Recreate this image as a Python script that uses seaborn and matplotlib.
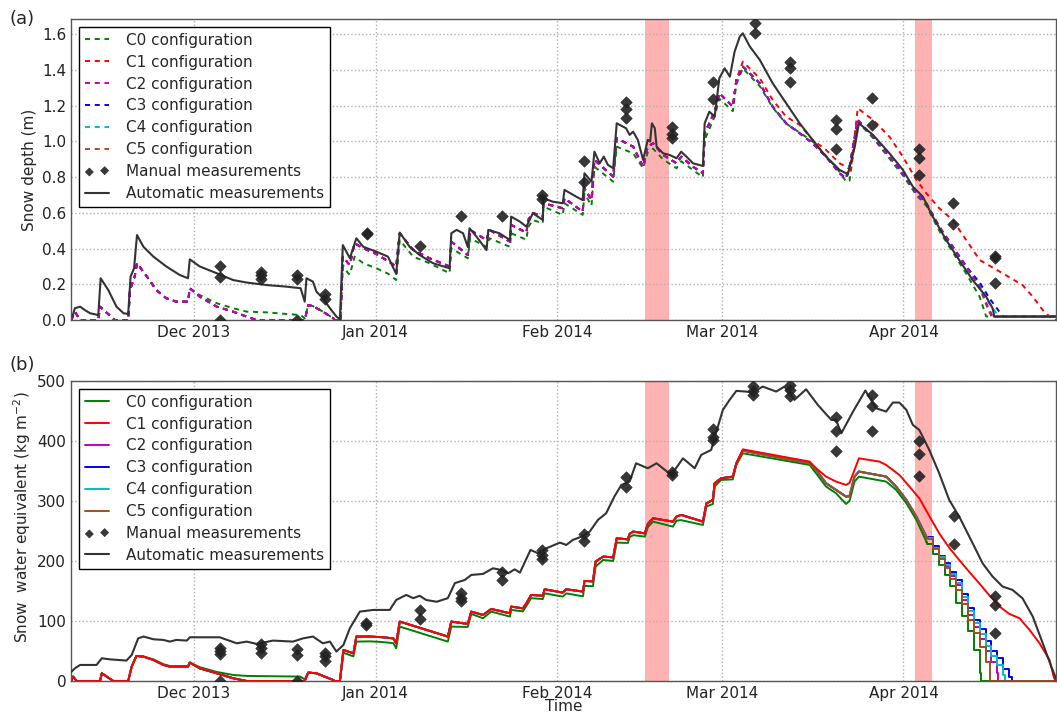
import pandas as pd
import numpy as np
import seaborn as sns
import matplotlib.pyplot as plt
import matplotlib.dates as mdates

# days counted from 2013-11-01
start = pd.Timestamp('2013-11-01')

# ---------------- panel (a): snow depth (m) ----------------
auto_sd_days = [9.3, 9.7, 10.6, 11.4, 12.3, 13.7, 14.1, 15.4, 16.8, 18.0,
                18.8, 19.2, 19.8, 20.3, 21.4, 23.1, 25.3, 27.6, 29.0, 29.3,
                31.0, 33.9, 36.7, 39.0, 42.4, 45.8, 48.2, 48.9, 49.2, 50.3,
                50.9, 52.0, 53.2, 54.3, 54.9, 55.4, 56.3, 56.6, 57.7, 58.9,
                61.1, 63.1, 64.5, 65.1, 66.8, 68.5, 70.8, 73.6, 73.9, 74.8,
                75.9, 76.7, 77.0, 78.2, 79.9, 80.2, 82.1, 83.9, 84.1, 85.6,
                86.7, 87.8, 89.5, 89.6, 91.2, 92.9, 93.2, 95.2, 96.3, 96.6,
                97.8, 98.3, 99.2, 99.9, 100.6, 101.5, 102.1, 103.7, 104.3, 104.9,
                105.7, 106.6, 107.4, 107.8, 108.1, 108.6, 108.9, 110.0, 111.1, 112.3,
                113.1, 114.0, 115.1, 116.8, 117.1, 117.9, 118.8, 119.6, 120.5, 121.4,
                122.2, 123.1, 123.6, 124.8, 126.5, 128.7, 131.0, 133.3, 135.5, 137.8,
                140.1, 141.2, 141.5, 142.7, 143.4, 145.8, 148.6, 150.9, 152.6, 154.3,
                156.0, 158.3, 160.5, 162.8, 165.1, 166.2, 166.5, 168.5, 177.0]
auto_sd_vals = [0.02, 0.066, 0.075, 0.056, 0.038, 0.028, 0.234, 0.168, 0.075, 0.038,
                0.034, 0.243, 0.29, 0.476, 0.41, 0.355, 0.30, 0.252, 0.234, 0.34,
                0.30, 0.262, 0.224, 0.21, 0.196, 0.187, 0.178, 0.103, 0.234, 0.215,
                0.159, 0.122, 0.066, 0.02, 0.004, 0.42, 0.364, 0.346, 0.458, 0.41,
                0.383, 0.355, 0.258, 0.49, 0.41, 0.364, 0.318, 0.29, 0.486, 0.505,
                0.486, 0.41, 0.514, 0.467, 0.392, 0.505, 0.486, 0.448, 0.579, 0.551,
                0.523, 0.598, 0.56, 0.682, 0.663, 0.654, 0.729, 0.691, 0.672, 0.822,
                0.775, 0.943, 0.878, 0.915, 0.869, 0.85, 1.102, 1.074, 1.037, 1.055,
                1.009, 0.897, 1.009, 1.0, 1.102, 1.074, 0.971, 0.934, 0.925, 0.906,
                0.943, 0.915, 0.878, 0.863, 1.102, 1.167, 1.139, 1.354, 1.41, 1.363,
                1.503, 1.588, 1.606, 1.532, 1.457, 1.326, 1.214, 1.102, 1.009, 0.915,
                0.841, 0.822, 0.813, 0.971, 1.102, 1.037, 0.934, 0.841, 0.747, 0.691,
                0.579, 0.448, 0.336, 0.224, 0.131, 0.066, 0.019, 0.019, 0.019]

man_sd_days = [34.4, 34.4, 34.4, 41.5, 41.5, 41.5, 47.5, 47.5, 47.5, 52.4, 52.4,
               59.5, 59.5, 68.5, 75.5, 82.5, 89.4, 89.4, 96.5, 96.5,
               103.6, 103.6, 103.6, 111.6, 111.6, 111.6, 118.5, 118.5, 125.6, 125.6,
               131.6, 131.6, 131.6, 139.5, 139.5, 139.5, 145.6, 145.6,
               153.6, 153.6, 153.6, 159.5, 159.5, 166.6, 166.6, 166.6]
man_sd_vals = [0.30, 0.24, 0.0, 0.27, 0.25, 0.23, 0.25, 0.23, 0.0, 0.145, 0.12,
               0.49, 0.48, 0.415, 0.585, 0.585, 0.70, 0.68, 0.89, 0.775,
               1.22, 1.18, 1.13, 1.08, 1.04, 1.02, 1.335, 1.24, 1.665, 1.605,
               1.445, 1.41, 1.335, 1.12, 1.07, 0.96, 1.245, 1.09,
               0.96, 0.91, 0.81, 0.655, 0.54, 0.36, 0.35, 0.205]

# C0 (whole season)
c0_sd_days = [9.1, 9.7, 10.6, 13.7, 14.0, 16.5, 18.8, 19.1, 19.9, 20.3,
              22.0, 23.6, 25.3, 27.0, 29.0, 29.3, 31.0, 33.9, 36.7, 39.0,
              42.4, 45.8, 48.2, 48.9, 49.5, 50.3, 52.0, 53.8, 54.0, 55.0,
              55.4, 56.3, 56.6, 57.4, 58.9, 61.1, 63.1, 64.5, 65.1, 67.4,
              70.2, 73.6, 73.9, 76.7, 77.1, 79.9, 80.4, 83.9, 84.1, 86.7,
              87.0, 87.8, 89.5, 89.6, 92.9, 93.2, 96.3, 96.6, 97.8, 98.3,
              101.5, 102.1, 104.9, 106.6, 107.4, 108.3, 110.0, 112.3, 113.1, 115.1,
              116.8, 117.1, 118.8, 119.6, 121.9, 122.5, 123.6, 126.5, 128.7, 131.0,
              133.3, 135.5, 137.8, 140.1, 141.2, 141.8, 143.2, 145.8, 148.6, 150.9,
              153.2, 154.9, 157.1, 159.4, 161.7, 164.0, 165.1, 177.0]
c0_sd_vals = [0.0, 0.046, 0.0, 0.0, 0.075, 0.0, 0.0, 0.168, 0.243, 0.318,
              0.243, 0.168, 0.122, 0.103, 0.103, 0.178, 0.14, 0.094, 0.066, 0.047,
              0.043, 0.034, 0.028, 0.009, 0.084, 0.078, 0.047, 0.009, 0.0, 0.0,
              0.308, 0.262, 0.255, 0.355, 0.318, 0.29, 0.26, 0.224, 0.448, 0.355,
              0.318, 0.262, 0.402, 0.346, 0.458, 0.41, 0.458, 0.41, 0.486, 0.45,
              0.52, 0.56, 0.542, 0.635, 0.589, 0.654, 0.589, 0.71, 0.64, 0.859,
              0.775, 0.971, 0.934, 0.85, 0.94, 0.96, 0.90, 0.85, 0.89, 0.84,
              0.80, 1.009, 1.14, 1.24, 1.17, 1.32, 1.41, 1.31, 1.19, 1.10,
              1.05, 1.0, 0.92, 0.83, 0.775, 0.78, 1.11, 1.02, 0.905, 0.81,
              0.70, 0.64, 0.50, 0.38, 0.26, 0.13, 0.02, 0.02]

# C1..C5 share the accumulation season
base_sd_days = [9.1, 9.7, 10.6, 13.7, 14.0, 16.5, 18.8, 19.1, 19.9, 20.3,
                22.0, 23.6, 25.3, 27.0, 29.0, 29.3, 31.0, 33.9, 36.7, 39.0,
                40.7, 48.9, 49.5, 50.3, 52.0, 53.8, 54.0, 55.0, 55.4, 56.3,
                56.6, 57.4, 58.9, 61.1, 63.1, 64.5, 65.1, 67.4, 70.2, 73.6,
                73.9, 76.7, 77.1, 79.9, 80.4, 83.9, 84.1, 86.7, 87.0, 87.8,
                89.5, 89.6, 92.9, 93.2, 96.3, 96.6, 97.8, 98.3, 101.5, 102.1,
                104.9, 106.6, 107.4, 108.3, 110.0, 112.3, 113.1, 115.1, 116.8, 117.1,
                118.8, 119.6, 121.9, 122.5]
base_sd_vals = [0.0, 0.046, 0.0, 0.0, 0.075, 0.0, 0.0, 0.168, 0.243, 0.318,
                0.243, 0.168, 0.122, 0.103, 0.103, 0.178, 0.131, 0.075, 0.047, 0.019,
                0.0, 0.0, 0.084, 0.078, 0.047, 0.009, 0.0, 0.0, 0.355, 0.318,
                0.31, 0.43, 0.402, 0.37, 0.33, 0.30, 0.486, 0.392, 0.346, 0.30,
                0.439, 0.364, 0.505, 0.448, 0.505, 0.439, 0.533, 0.49, 0.56, 0.60,
                0.58, 0.654, 0.626, 0.682, 0.607, 0.738, 0.672, 0.897, 0.803, 1.018,
                0.971, 0.859, 0.971, 0.99, 0.925, 0.878, 0.915, 0.859, 0.822, 1.046,
                1.167, 1.27, 1.195, 1.345]

c1_sd_days = [123.6, 126.5, 128.7, 131.0, 133.3, 135.5, 137.8, 140.1, 141.2, 142.0,
              143.2, 145.8, 148.6, 150.9, 153.2, 154.9, 157.1, 159.4, 161.7, 164.0,
              167.9, 171.3, 173.05, 174.75, 176.2, 177.0]
c1_sd_vals = [1.447, 1.354, 1.233, 1.139, 1.093, 1.009, 0.953, 0.878, 0.859, 0.84,
              1.186, 1.121, 1.027, 0.915, 0.785, 0.71, 0.626, 0.56, 0.448, 0.336,
              0.262, 0.196, 0.131, 0.056, 0.01, 0.0]

mid_sd_days = [123.6, 126.5, 128.7, 131.0, 133.3, 135.5, 137.8, 140.1, 141.2, 141.8,
               143.2, 145.8, 148.6, 150.9, 153.2, 154.9, 157.1, 159.4, 161.7]
mid_sd_vals = [1.42, 1.326, 1.195, 1.102, 1.046, 0.99, 0.915, 0.822, 0.794, 0.859,
               1.121, 1.027, 0.915, 0.822, 0.71, 0.654, 0.523, 0.411, 0.30]

end_sd_days = {'C2': [164.0, 165.4, 166.2, 177.0],
               'C3': [164.0, 165.7, 167.5, 167.9, 177.0],
               'C4': [164.0, 165.5, 167.0, 167.3, 177.0],
               'C5': [164.0, 165.3, 166.0, 177.0]}
end_sd_vals = {'C2': [0.187, 0.075, 0.02, 0.02],
               'C3': [0.21, 0.12, 0.04, 0.02, 0.02],
               'C4': [0.20, 0.10, 0.03, 0.02, 0.02],
               'C5': [0.18, 0.07, 0.02, 0.02]}

# ---------------- panel (b): SWE (kg m-2) ----------------
auto_swe_days = [9.15, 9.7, 10.6, 13.4, 14.3, 15.7, 18.5, 19.4, 20.5, 21.4,
                 23.1, 24.8, 25.9, 27.0, 28.8, 29.3, 31.6, 34.4, 37.3, 39.0,
                 40.7, 43.5, 46.9, 48.6, 50.3, 52.0, 53.2, 54.3, 55.5, 56.6,
                 58.3, 60.6, 63.4, 64.5, 66.2, 67.4, 68.5, 69.6, 71.4, 73.3,
                 74.5, 76.2, 77.3, 79.3, 81.0, 82.4, 83.6, 84.7, 85.6, 87.4,
                 88.7, 90.1, 92.4, 93.5, 94.6, 96.1, 97.5, 98.9, 100.3, 101.7,
                 102.9, 104.3, 105.4, 107.4, 108.9, 111.4, 113.4, 115.4, 116.5, 118.2,
                 119.1, 120.2, 121.35, 122.5, 124.2, 125.3, 127.0, 129.3, 130.7, 132.4,
                 134.4, 136.4, 138.7, 139.5, 140.4, 142.4, 144.5, 146.3, 148.05, 149.2,
                 150.3, 151.5, 152.6, 153.7, 155.4, 157.1, 158.8, 160.5, 162.8, 164.5,
                 166.2, 167.9, 169.6, 171.3, 173.05, 174.75, 176.2, 177.0]
auto_swe_vals = [15.6, 21, 26.7, 26.7, 37.8, 36, 34, 43.4, 71, 74,
                 69.5, 68.4, 65.6, 68.4, 67.3, 72.8, 72.8, 72.8, 62.8, 65.6,
                 61.7, 67.3, 65.6, 71, 74, 62.8, 65.6, 49, 60, 88,
                 115.6, 118.4, 118.4, 135, 143.4, 138, 142, 135, 132, 138,
                 163, 168.4, 176.7, 178.4, 187.8, 185, 179.5, 186, 180.6, 218.4,
                 212.8, 221, 230.6, 226.7, 235, 240.6, 249, 268.4, 279.5, 307.3,
                 326.7, 332.3, 362.8, 354.5, 362.8, 343.4, 371, 354.5, 376.7, 385,
                 415.6, 451.7, 468.4, 483.4, 482.3, 480.6, 490.6, 482.3, 490.6, 468.4,
                 486.1, 460, 435, 435, 412.8, 449, 484, 454.5, 449, 464,
                 464, 451.7, 426.7, 418.4, 385, 346, 301.7, 274, 229.5, 196,
                 174, 157.3, 151.7, 137.8, 107.3, 62.8, 24, 4.5]

man_swe_days = [34.4, 34.4, 34.4, 34.4, 41.5, 41.5, 41.5, 47.5, 47.5, 47.5,
                52.4, 52.4, 52.4, 59.4, 59.4, 68.5, 68.5, 75.5, 75.5, 75.5,
                82.6, 82.6, 89.4, 89.4, 89.4, 96.6, 96.6, 103.6, 103.6, 111.5, 111.5,
                118.5, 118.5, 118.5, 125.4, 125.4, 125.4, 131.6, 131.6, 131.6,
                139.5, 139.5, 139.5, 145.6, 145.6, 145.6, 153.6, 153.6, 153.6,
                159.6, 159.6, 166.6, 166.6, 166.6]
man_swe_vals = [55, 50, 45, 0, 61, 55, 47, 53, 44, 0,
                47, 41, 34, 97, 94, 119, 104, 146, 138, 134,
                181, 168, 218, 210, 204, 245, 234, 340, 323, 348, 343,
                420, 406, 402, 492, 484, 476, 494, 485, 475,
                440, 416, 383, 477, 458, 417, 400, 378, 342,
                275, 228, 141, 127, 80]

c0_swe_days = [9.1, 9.4, 10.0, 14.0, 14.3, 16.25, 18.8, 19.4, 20.2, 21.4,
               23.1, 24.8, 25.9, 29.0, 29.3, 31.0, 33.9, 36.7, 39.0, 48.1,
               48.9, 49.5, 50.9, 52.0, 53.75, 54.0, 54.9, 55.5, 57.2, 57.7,
               60.0, 62.0, 64.0, 64.5, 65.1, 73.3, 73.9, 76.7, 77.3, 79.3,
               80.7, 83.9, 84.1, 86.1, 86.7, 87.5, 89.5, 89.8, 92.9, 93.5,
               96.35, 96.6, 98.05, 98.5, 99.8, 101.5, 102.1, 104.0, 104.3, 104.9,
               106.9, 107.4, 108.3, 111.7, 112.3, 113.1, 116.8, 117.4, 118.5, 118.8,
               119.9, 121.9, 122.5, 123.6, 135.0, 136.1, 137.8, 139.5, 141.2, 141.8,
               142.65, 143.4, 148.05, 149.75, 151.5, 153.2, 154.9]
c0_swe_vals = [0, 7.3, 0, 0, 12.8, 0, 0, 24, 41.7, 40.6,
               36, 28, 25, 25, 31, 23, 15, 10, 8.4, 7.3,
               2.8, 14, 12.8, 8.4, 1.7, 0, 0, 47, 41, 65.6,
               66, 65, 63, 54.5, 90.6, 65.6, 90.6, 90, 111.7, 104.5,
               115.6, 107.3, 118.4, 116, 125, 138, 136.5, 146, 140.6, 146,
               141, 158.4, 158, 190.6, 201.7, 200, 230.6, 230, 239.5, 243,
               240.6, 256.1, 265.6, 257.2, 267.3, 268, 260, 290.6, 295, 324,
               335, 336, 360, 379.5, 360, 346, 324, 312.8, 295, 300,
               332.3, 340.6, 332.3, 318.4, 296.1, 268.4, 232.3]

base_swe_days = [9.1, 9.4, 10.0, 14.0, 14.3, 16.25, 18.8, 19.4, 20.2, 21.4,
                 23.1, 24.8, 25.9, 29.0, 29.3, 31.0, 33.9, 36.7, 39.0, 48.9,
                 49.5, 50.9, 52.0, 53.75, 54.0, 54.9, 55.5, 57.2, 57.7, 60.0,
                 62.0, 64.0, 64.5, 65.1, 73.3, 73.9, 76.7, 77.3, 79.3, 80.7,
                 83.9, 84.1, 86.1, 86.7, 87.5, 89.5, 89.8, 92.9, 93.5, 96.35,
                 96.6, 98.05, 98.5, 99.8, 101.5, 102.1, 104.0, 104.3, 104.9, 106.9,
                 107.4, 108.3, 111.7, 112.3, 113.1, 116.8, 117.4, 118.5, 118.8, 119.9,
                 121.9, 122.5]
base_swe_vals = [0, 7.3, 0, 0, 12.8, 0, 0, 24, 41.7, 40.6,
                 35, 26.7, 24, 24, 30.6, 21, 12.8, 4.5, 0, 0,
                 14, 12.8, 8.4, 1.7, 0, 0, 51.7, 46, 74, 74,
                 73, 71, 62.8, 99, 74, 99, 95, 115.6, 110, 120,
                 112.8, 123.9, 121, 129.5, 143.4, 142, 152.8, 147.3, 152.8, 149,
                 166.7, 166, 199, 207.3, 206, 237.8, 236, 245, 249, 246,
                 261.7, 271.1, 265.6, 274, 276.7, 265.6, 296.1, 301.7, 329.5, 337.8,
                 340.6, 362.8]

c1_swe_days = [123.6, 135.0, 136.1, 137.8, 139.5, 141.2, 141.8, 142.65, 143.4, 146.9,
               148.05, 150.3, 151.5, 153.7, 155.4, 157.1, 158.8, 160.5, 162.2, 163.9,
               165.7, 167.4, 169.0, 170.8, 172.5, 174.2, 175.9, 176.7, 177.0]
c1_swe_vals = [386, 365.6, 354.5, 340.6, 332.3, 326.7, 330, 351.7, 371.1, 365.6,
               360, 343.4, 330, 304.5, 275, 246, 222, 201.7, 182, 163,
               142, 124, 112, 104.5, 85, 63, 35, 4.4, 0]

mid_swe_days = [123.6, 135.0, 136.1, 137.8, 139.5, 141.2, 141.8, 142.65, 143.4, 148.05,
                149.75, 151.5, 153.2, 154.9]
mid_swe_vals = [384, 362.8, 351.7, 329.5, 318.4, 307.3, 308, 340.6, 349, 340.6,
                324, 301.7, 274, 240.6]

# daily melt-season values (drawn as stairs)
melt_swe_days = {'C0': [154.9, 155, 156, 157, 158, 159, 160, 161, 162, 163, 164, 164.3, 177],
                 'C2': [154.9, 155, 156, 157, 158, 159, 160, 161, 162, 163, 164, 165, 166, 167, 167.2, 177],
                 'C3': [154.9, 155, 156, 157, 158, 159, 160, 161, 162, 163, 164, 165, 166, 167, 168, 169, 169.5, 177],
                 'C4': [154.9, 155, 156, 157, 158, 159, 160, 161, 162, 163, 164, 165, 166, 167, 168, 168.3, 177],
                 'C5': [154.9, 155, 156, 157, 158, 159, 160, 161, 162, 163, 164, 165, 165.7, 177]}
melt_swe_vals = {'C0': [232.3, 228, 212, 194, 176, 158, 130, 108, 84, 52, 14, 0, 0],
                 'C2': [240.6, 238, 222, 205, 192, 175, 160, 135, 110, 90, 70, 50, 32, 14, 0, 0],
                 'C3': [240.6, 240, 225, 208, 196, 182, 168, 145, 122, 102, 86, 66, 50, 38, 20, 6, 0, 0],
                 'C4': [240.6, 238, 222, 206, 194, 178, 164, 140, 116, 96, 78, 58, 42, 26, 10, 0, 0],
                 'C5': [240.6, 236, 220, 203, 188, 170, 152, 128, 102, 80, 56, 32, 0, 0]}

configs = ['C0', 'C1', 'C2', 'C3', 'C4', 'C5']
colors = {'C0': 'green', 'C1': 'red', 'C2': '#bf00bf', 'C3': 'blue',
          'C4': '#00bfbf', 'C5': '#a0501e'}
draw_order = {'a': ['C0', 'C5', 'C4', 'C3', 'C1', 'C2'],
              'b': ['C0', 'C2', 'C3', 'C4', 'C5', 'C1']}
gaps = [(107.0, 111.1), (153.0, 155.9)]


def to_dates(days):
    return start + pd.to_timedelta(np.asarray(days, dtype=float), unit='D')


def sd_series(cfg):
    if cfg == 'C0':
        return c0_sd_days, c0_sd_vals, None
    if cfg == 'C1':
        return base_sd_days + c1_sd_days, base_sd_vals + c1_sd_vals, None
    return (base_sd_days + mid_sd_days + end_sd_days[cfg],
            base_sd_vals + mid_sd_vals + end_sd_vals[cfg], None)


def swe_series(cfg):
    if cfg == 'C0':
        return c0_swe_days, c0_swe_vals, (melt_swe_days['C0'], melt_swe_vals['C0'])
    if cfg == 'C1':
        return base_swe_days + c1_swe_days, base_swe_vals + c1_swe_vals, None
    return (base_swe_days + mid_swe_days, base_swe_vals + mid_swe_vals,
            (melt_swe_days[cfg], melt_swe_vals[cfg]))


sns.set_style('white')
plt.rcParams['font.family'] = ['DejaVu Sans']

fig = plt.figure(figsize=(10.57, 7.15), dpi=100)
ax1 = fig.add_axes([0.0672, 0.5524, 0.9318, 0.421])
ax2 = fig.add_axes([0.0672, 0.0476, 0.9318, 0.4196])

panels = [(ax1, 'a', (0, (2.6, 2.4)), sd_series, auto_sd_days, auto_sd_vals, man_sd_days, man_sd_vals),
          (ax2, 'b', '-', swe_series, auto_swe_days, auto_swe_vals, man_swe_days, man_swe_vals)]

for ax, key, ls, get_series, ad, av, mdd, mvv in panels:
    for g0, g1 in gaps:
        ax.axvspan(to_dates([g0])[0], to_dates([g1])[0], color='red', alpha=0.3, lw=0, zorder=0)
    for cfg in draw_order[key]:
        d, v, melt = get_series(cfg)
        df = pd.DataFrame({'date': to_dates(d), 'val': v})
        sns.lineplot(data=df, x='date', y='val', color=colors[cfg], linestyle=ls,
                     lw=1.4, estimator=None, sort=False, ax=ax,
                     label=cfg + ' configuration')
        if melt is not None:
            dm = pd.DataFrame({'date': to_dates(melt[0]), 'val': melt[1]})
            sns.lineplot(data=dm, x='date', y='val', color=colors[cfg], linestyle=ls,
                         lw=1.4, estimator=None, sort=False, ax=ax,
                         drawstyle='steps-post')
    sns.scatterplot(x=to_dates(mdd), y=mvv, marker='D', s=34, color='#222222',
                    edgecolor='#222222', alpha=0.9, ax=ax, zorder=5,
                    label='Manual measurements')
    dfa = pd.DataFrame({'date': to_dates(ad), 'val': av})
    sns.lineplot(data=dfa, x='date', y='val', color='#333333', lw=1.5,
                 estimator=None, sort=False, ax=ax, zorder=4,
                 label='Automatic measurements')

    handles, labels = ax.get_legend_handles_labels()
    order = [labels.index(c + ' configuration') for c in configs]
    order += [labels.index('Manual measurements'), labels.index('Automatic measurements')]
    leg = ax.legend([handles[i] for i in order], [labels[i] for i in order],
                    loc='upper left', fontsize=11, scatterpoints=2, markerscale=0.7,
                    fancybox=False, framealpha=1, edgecolor='black', handlelength=1.6,
                    handletextpad=1.1, labelspacing=0.45, borderaxespad=0.5)
    leg.get_frame().set_linewidth(1.0)

    ax.set_xlim(to_dates([9.05])[0], to_dates([177.0])[0])
    ax.xaxis.set_major_locator(mdates.MonthLocator())
    ax.xaxis.set_major_formatter(mdates.DateFormatter('%b %Y'))
    ax.grid(True, color='#b0b0b0', linestyle=':', lw=1)
    ax.tick_params(labelsize=11, direction='in', length=4, colors='#222222')
    for s in ax.spines.values():
        s.set_color('#555555')
        s.set_linewidth(1.0)
    ax.set_xlabel('')

ax1.set_ylim(0, 1.686)
ax1.set_yticks(np.arange(0, 1.61, 0.2))
ax1.yaxis.set_major_formatter(plt.FormatStrFormatter('%.1f'))
ax1.set_ylabel('Snow depth (m)', fontsize=11)
ax1.yaxis.set_label_coords(-0.0345, 0.5)

ax2.set_ylim(0, 500)
ax2.set_yticks(np.arange(0, 501, 100))
ax2.set_ylabel('Snow  water equivalent (kg m$^{-2}$)', fontsize=11)
ax2.yaxis.set_label_coords(-0.0386, 0.547)
ax2.set_xlabel('Time', fontsize=11, labelpad=-1)

fig.text(0.009, 0.974, '(a)', fontsize=13, va='center')
fig.text(0.009, 0.490, '(b)', fontsize=13, va='center')

fig.savefig('out.png', dpi=100)
